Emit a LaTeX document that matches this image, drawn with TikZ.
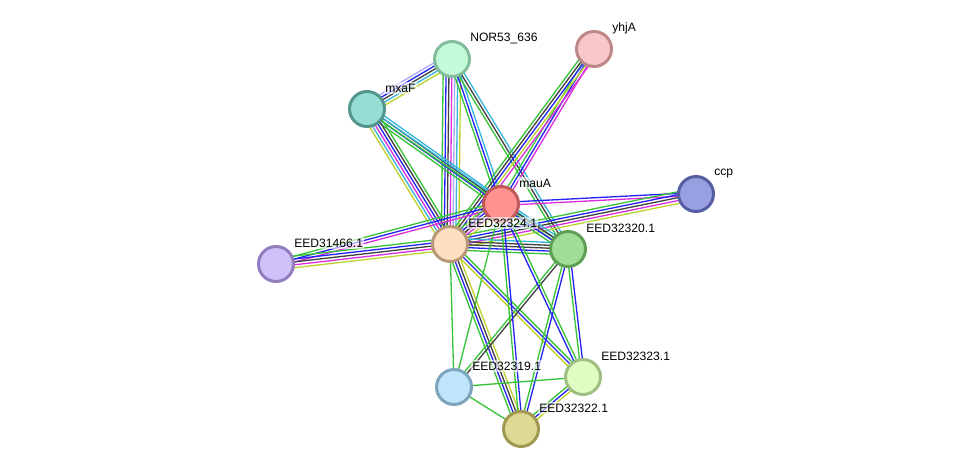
\documentclass[tikz,border=0pt]{standalone}
\usepackage{fontspec}
\setmainfont{Liberation Sans}
\usepackage{tikz}
\usetikzlibrary{calc, backgrounds}

\definecolor{sgreen}{RGB}{55,195,55}
\definecolor{sblue}{RGB}{35,35,245}
\definecolor{sgray}{RGB}{65,65,65}
\definecolor{smag}{RGB}{220,45,220}
\definecolor{scyan}{RGB}{55,180,220}
\definecolor{syel}{RGB}{190,210,45}
\definecolor{slav}{RGB}{170,170,250}

% one bundle of parallel lines between two proteins
\newcommand{\bundle}[3]{%
  \xdef\nlines{0}%
  \foreach \col in {#3} {\xdef\nlines{\the\numexpr\nlines+1\relax}}%
  \foreach \col [count=\i] in {#3} {%
    \pgfmathsetmacro\off{(\i-(\nlines+1)/2)*1.65}%
    \draw [link, \col] ($(#1)!\off pt!90:(#2)$) -- ($(#2)!\off pt!-90:(#1)$);
  }%
}

\tikzset{
  prot/.style={circle, minimum size=0.70cm, inner sep=0, line width=1.7pt},
  lbl/.style={anchor=west, font=\fontsize{6.9}{8}\selectfont, inner sep=0.8pt,
    fill=white, fill opacity=0.6, text opacity=1, xshift=-0.05cm, yshift=0.42cm},
  link/.style={line width=0.75pt}
}

\begin{document}
\begin{tikzpicture}[x=0.02cm, y=-0.02cm]
  \useasboundingbox (0,0) rectangle (976,475);

  \node [prot, fill={rgb,255:red,195;green,250;blue,215}, draw={rgb,255:red,130;green,190;blue,155}, label={[lbl]0:NOR53\_636}] (nor) at (452,59) {};
  \node [prot, fill={rgb,255:red,248;green,200;blue,200}, draw={rgb,255:red,190;green,135;blue,135}, label={[lbl]0:yhjA}] (yhja) at (594,49) {};
  \node [prot, fill={rgb,255:red,150;green,222;blue,212}, draw={rgb,255:red,85;green,150;blue,140}, label={[lbl]0:mxaF}] (mxaf) at (367,109) {};
  \node [prot, fill={rgb,255:red,255;green,145;blue,145}, draw={rgb,255:red,190;green,90;blue,90}, label={[lbl]0:mauA}] (maua) at (501,204) {};
  \node [prot, fill={rgb,255:red,152;green,160;blue,225}, draw={rgb,255:red,85;green,95;blue,160}, label={[lbl]0:ccp}] (ccp) at (696,194) {};
  \node [prot, fill={rgb,255:red,253;green,222;blue,192}, draw={rgb,255:red,185;green,152;blue,122}, label={[lbl]0:EED32324.1}] (e324) at (450,244) {};
  \node [prot, fill={rgb,255:red,160;green,222;blue,150}, draw={rgb,255:red,95;green,160;blue,85}, label={[lbl]0:EED32320.1}] (e320) at (568,249) {};
  \node [prot, fill={rgb,255:red,208;green,192;blue,250}, draw={rgb,255:red,145;green,125;blue,190}, label={[lbl]0:EED31466.1}] (e466) at (276,264) {};
  \node [prot, fill={rgb,255:red,192;green,228;blue,250}, draw={rgb,255:red,125;green,165;blue,190}, label={[lbl]0:EED32319.1}] (e319) at (454,387) {};
  \node [prot, fill={rgb,255:red,225;green,252;blue,195}, draw={rgb,255:red,160;green,190;blue,130}, label={[lbl]0:EED32323.1}] (e323) at (583,377) {};
  \node [prot, fill={rgb,255:red,222;green,218;blue,148}, draw={rgb,255:red,160;green,152;blue,80}, label={[lbl]0:EED32322.1}] (e322) at (521,429) {};

  \begin{scope}[on background layer]
    \bundle{nor}{mxaf}{slav,sblue,sgray,scyan,syel}
    \bundle{nor}{e324}{sgreen,sblue,sgray,smag,slav,scyan,syel}
    \bundle{nor}{maua}{sgreen,sblue,scyan}
    \bundle{nor}{e320}{sgreen,sgray,scyan}
    \bundle{yhja}{maua}{sgreen,sblue,smag}
    \bundle{yhja}{e324}{sgreen,sgray,sblue,syel,smag}
    \bundle{mxaf}{maua}{sgreen,sblue,sgray,scyan}
    \bundle{mxaf}{e320}{sgreen,scyan}
    \bundle{mxaf}{e324}{syel,scyan,smag,sblue,sgray,sgreen}
    \bundle{maua}{ccp}{smag,sblue}
    \bundle{e324}{ccp}{syel,smag,sgray,sblue,sgreen}
    \bundle{e466}{maua}{smag,sblue,sgreen}
    \bundle{e466}{e324}{syel,smag,sgray,sblue,sgreen}
    \bundle{maua}{e324}{sgreen,sblue,sgray,smag,syel}
    \bundle{maua}{e320}{sgreen,sblue,sgray,scyan}
    \bundle{e324}{e320}{sgreen,sblue,sgray,sgray,scyan}
    \bundle{e324}{e319}{sgreen}
    \bundle{e324}{e322}{sgreen,sblue,sgray,syel}
    \bundle{e324}{e323}{syel,sblue,sgreen}
    \bundle{e320}{e319}{sgreen,sgray}
    \bundle{e320}{e322}{sgreen,sblue}
    \bundle{e320}{e323}{sgreen,sblue}
    \bundle{maua}{e322}{sgreen,sblue}
    \bundle{maua}{e323}{sblue,sgreen}
    \bundle{maua}{e319}{sgreen}
    \bundle{e319}{e323}{sgreen}
    \bundle{e319}{e322}{sgreen}
    \bundle{e323}{e322}{sgreen,sblue,syel}
  \end{scope}
\end{tikzpicture}
\end{document}
